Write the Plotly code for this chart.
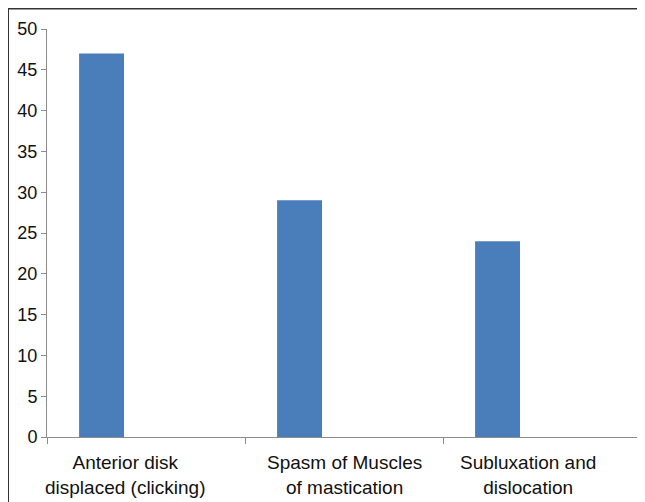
import plotly.graph_objects as go

categories = ["Anterior disk<br>displaced (clicking)", "Spasm of Muscles<br>of mastication", "Subluxation and<br>dislocation"]
values = [47, 29, 24]
y_ticks = [0, 5, 10, 15, 20, 25, 30, 35, 40, 45, 50]

# page body has an 8px margin; figure sized to fit the 645x502 window
W, H = 637, 494
L, R, T, B = 39, 4, 21, 65
pw, ph = W - L - R, H - T - B

fig = go.Figure()
fig.add_trace(go.Bar(
    x=categories, y=values,
    width=0.227, offset=-0.338,
    marker=dict(color="#4A7EBB", line=dict(width=0)),
    hoverinfo="x+y",
))

axis_col = "#8C8C8C"
fig.update_layout(
    width=W, height=H,
    margin=dict(l=L, r=R, t=T, b=B, pad=0),
    paper_bgcolor="white", plot_bgcolor="white",
    showlegend=False,
    font=dict(family="Liberation Sans, Arial, sans-serif", size=18, color="#111111"),
    xaxis=dict(
        type="category", range=[-0.5, 2.5],
        showline=True, linecolor=axis_col, linewidth=1,
        ticks="outside", tickson="boundaries", ticklen=6, tickcolor=axis_col,
        showgrid=False, zeroline=False,
        showticklabels=False,
    ),
    yaxis=dict(
        range=[0, 50], tickvals=y_ticks,
        showline=True, linecolor=axis_col, linewidth=1,
        ticks="outside", ticklen=5, tickcolor=axis_col,
        showgrid=False, zeroline=False,
        tickfont=dict(size=18),
    ),
)

# category labels (placed as in the reference, slightly left of centre for outer ones)
label_shift = [-21, 0, -14]
for cat, dx in zip(categories, label_shift):
    fig.add_annotation(x=cat, xref="x", y=0, yref="paper", yanchor="top", xanchor="center",
                       xshift=dx, yshift=-13, text=cat, showarrow=False, align="center",
                       font=dict(size=19, color="#111111"))

# outer frame (top and left edges visible in reference)
top_y = (H - B - 0.5) / ph
left_x = (0.0 - L) / pw
fig.add_shape(type="line", xref="paper", yref="paper", x0=left_x, x1=1.2, y0=top_y, y1=top_y,
              line=dict(color="#333333", width=2))
fig.add_shape(type="line", xref="paper", yref="paper", x0=left_x, x1=left_x, y0=top_y, y1=-0.3,
              line=dict(color="#333333", width=2))

fig.write_html("out.html")
